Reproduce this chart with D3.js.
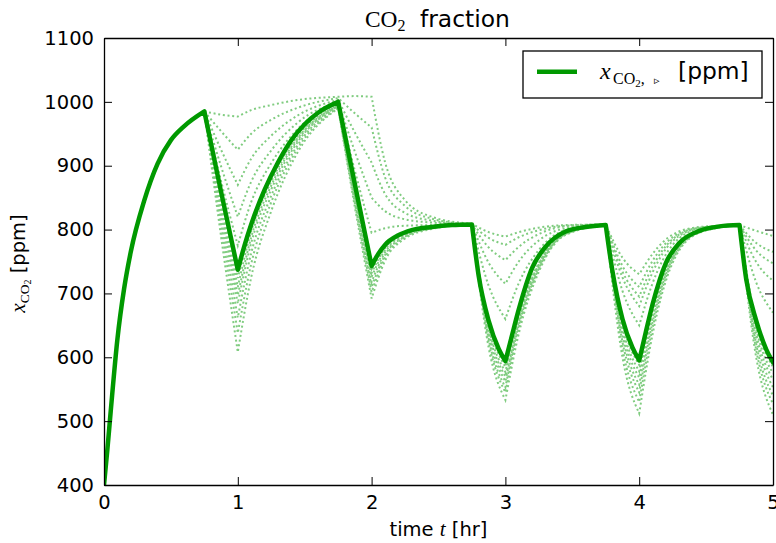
<!DOCTYPE html>
<html><head><meta charset="utf-8">
<script src="https://cdn.jsdelivr.net/npm/d3@7"></script>
<style>body{margin:0;background:#fff}svg{display:block}</style>
</head><body><svg id="c" width="776" height="543"></svg>
<script>
// ---- data ----
const xTicks = [0, 1, 2, 3, 4, 5];
const yTicks = [400, 500, 600, 700, 800, 900, 1000, 1100];
const switchTimes = [0.75, 1, 1.75, 2, 2.75, 3, 3.75, 4, 4.75, 5];

const mainT = [0, 0.025, 0.05, 0.1, 0.15, 0.2, 0.3, 0.4, 0.5, 0.6, 0.75, 0.875, 1, 1.05, 1.1, 1.2, 1.3, 1.4, 1.5, 1.6, 1.75, 1.875, 2, 2.05, 2.1, 2.2, 2.3, 2.45, 2.6, 2.75, 2.8, 2.875, 2.95, 3, 3.05, 3.1, 3.2, 3.3, 3.45, 3.6, 3.75, 3.8, 3.875, 3.95, 4, 4.05, 4.1, 4.2, 4.3, 4.45, 4.6, 4.75, 4.8, 4.875, 4.95, 5];
const mainV = [400, 455, 515, 628, 707, 765, 845, 903, 940, 962, 985, 859, 737, 775, 808, 862, 905, 940, 965, 983, 1000, 871, 743, 762, 776, 791, 799, 804, 807, 808, 728, 657, 613, 594, 635, 675, 740, 773, 797, 804, 807, 735, 660, 615, 595, 640, 683, 748, 779, 798, 805, 807, 722, 657, 612, 592];

const dotT = [0.75, 0.875, 1, 1.1, 1.25, 1.45, 1.75, 1.875, 2, 2.1, 2.25, 2.45, 2.75, 2.875, 3, 3.1, 3.25, 3.45, 3.75, 3.875, 4, 4.1, 4.25, 4.45, 4.75, 4.875, 5];
const dot1  = [985, 980, 977, 987, 995, 1003, 1008, 1009, 1008, 906, 846, 820, 809, 796, 789, 796, 803, 807, 808, 756, 730, 762, 792, 804, 807, 798, 790];
const dot2  = [985, 954, 925, 950, 972, 991, 1006, 982, 960, 882, 837, 817, 808, 787, 776, 788, 799, 806, 808, 743, 710, 751, 788, 803, 807, 779, 765];
const dot3  = [985, 925, 870, 911, 947, 979, 1003, 952, 905, 856, 826, 814, 808, 772, 752, 773, 793, 805, 808, 734, 695, 742, 785, 803, 807, 767, 747];
const dot4  = [985, 899, 820, 875, 924, 968, 1000, 922, 850, 829, 816, 811, 808, 748, 715, 750, 783, 802, 808, 725, 680, 733, 782, 802, 807, 749, 720];
const dot5  = [985, 876, 775, 843, 904, 958, 998, 892, 795, 802, 806, 807, 808, 712, 660, 716, 768, 799, 807, 704, 650, 716, 776, 801, 807, 717, 670];
const dot6  = [985, 849, 724, 807, 881, 947, 996, 862, 738, 774, 795, 804, 808, 652, 585, 670, 748, 795, 807, 654, 588, 680, 763, 798, 807, 651, 585];
const dot7  = [985, 842, 710, 797, 875, 944, 995, 858, 732, 771, 794, 803, 808, 646, 577, 665, 746, 794, 807, 647, 578, 674, 761, 798, 807, 644, 575];
const dot8  = [985, 835, 697, 788, 869, 941, 994, 855, 726, 768, 792, 803, 808, 641, 570, 660, 744, 794, 807, 640, 568, 668, 759, 797, 807, 637, 565];
const dot9  = [985, 828, 684, 779, 863, 938, 994, 850, 718, 764, 791, 803, 808, 636, 562, 655, 742, 793, 807, 632, 557, 662, 757, 797, 807, 629, 553];
const dot10 = [985, 817, 662, 763, 853, 933, 993, 846, 710, 760, 789, 802, 808, 629, 553, 650, 739, 793, 807, 624, 545, 655, 755, 797, 807, 620, 540];
const dot11 = [985, 805, 638, 746, 843, 928, 991, 841, 702, 756, 788, 802, 808, 624, 545, 645, 737, 792, 807, 613, 530, 646, 752, 796, 807, 611, 527];
const dot12 = [985, 789, 608, 725, 829, 922, 990, 835, 692, 751, 786, 801, 808, 615, 533, 637, 734, 792, 807, 600, 512, 636, 748, 795, 807, 599, 510];
const dotSeries = [dot1, dot2, dot3, dot4, dot5, dot6, dot7, dot8, dot9, dot10, dot11, dot12];

// ---- layout ----
const W = 776, H = 543;
const M = {l: 104, r: 773, t: 38, b: 485};
const svg = d3.select('#c');
const x = d3.scaleLinear().domain([0, 5]).range([M.l, M.r]);
const y = d3.scaleLinear().domain([400, 1100]).range([M.b, M.t]);
const SANS = "'DejaVu Sans', sans-serif";
const SERIF = "'Liberation Serif', 'DejaVu Serif', serif";
const mainColor = '#009900';
const dotColor = '#80cc80';

svg.append('defs').append('clipPath').attr('id', 'clip')
  .append('rect').attr('x', M.l).attr('y', M.t).attr('width', M.r - M.l).attr('height', M.b - M.t);

function segPath(T, V) {
  const pts = T.map((t, i) => [t, V[i]]);
  const segs = []; let cur = [pts[0]];
  for (let i = 1; i < pts.length; i++) {
    cur.push(pts[i]);
    if (i < pts.length - 1 && switchTimes.some(b => Math.abs(b - pts[i][0]) < 1e-9)) {
      segs.push(cur); cur = [pts[i]];
    }
  }
  segs.push(cur);
  const gen = d3.line().x(d => x(d[0])).y(d => y(d[1])).curve(d3.curveMonotoneX);
  return segs.map((s, k) => { const p = gen(s); return k === 0 ? p : p.replace(/^M[^CL]*/, ''); }).join('');
}

const plot = svg.append('g').attr('clip-path', 'url(#clip)');
plot.selectAll('path.dot').data(dotSeries).join('path')
  .attr('class', 'dot')
  .attr('d', d => segPath(dotT, d))
  .attr('fill', 'none').attr('stroke', dotColor).attr('stroke-width', 2)
  .attr('stroke-dasharray', '2 2.7');
plot.append('path').attr('d', segPath(mainT, mainV))
  .attr('fill', 'none').attr('stroke', mainColor).attr('stroke-width', 4.5)
  .attr('stroke-linejoin', 'round').attr('stroke-linecap', 'round');

// ---- axes ----
function styleAxis(g) {
  g.select('.domain').attr('stroke', '#000').attr('stroke-width', 1.3);
  g.selectAll('.tick line').attr('stroke', '#000').attr('stroke-width', 1);
  g.selectAll('.tick text').attr('fill', '#000').attr('font-family', SANS).attr('font-size', 19.5);
}
svg.append('g').attr('transform', `translate(0,${M.b})`)
  .call(d3.axisBottom(x).tickValues(xTicks).tickSize(-8).tickSizeOuter(0).tickPadding(10).tickFormat(d3.format('d')))
  .call(styleAxis);
svg.append('g').attr('transform', `translate(0,${M.t})`)
  .call(d3.axisTop(x).tickValues(xTicks).tickSize(-8).tickSizeOuter(0).tickFormat(''))
  .call(styleAxis);
svg.append('g').attr('transform', `translate(${M.l},0)`)
  .call(d3.axisLeft(y).tickValues(yTicks).tickSize(-8).tickSizeOuter(0).tickPadding(10).tickFormat(d3.format('d')))
  .call(styleAxis);
svg.append('g').attr('transform', `translate(${M.r},0)`)
  .call(d3.axisRight(y).tickValues(yTicks).tickSize(-8).tickSizeOuter(0).tickFormat(''))
  .call(styleAxis);

// ---- title ----
const title = svg.append('text').attr('y', 27).attr('fill', '#000');
title.append('tspan').attr('x', 365).attr('font-family', SERIF).attr('font-size', 23.4).text('CO');
title.append('tspan').attr('dy', 4).attr('font-family', SERIF).attr('font-size', 16).text('2');
title.append('tspan').attr('x', 420).attr('y', 27).attr('font-family', SANS).attr('font-size', 23.4).text('fraction');

// ---- x label ----
const xl = svg.append('text').attr('x', (M.l + M.r) / 2).attr('y', 536).attr('text-anchor', 'middle').attr('fill', '#000').attr('font-size', 19.5);
xl.append('tspan').attr('font-family', SANS).text('time ');
xl.append('tspan').attr('font-family', SERIF).attr('font-style', 'italic').attr('font-size', 21).text('t');
xl.append('tspan').attr('font-family', SANS).text(' [hr]');

// ---- y label ----
const yl = svg.append('text').attr('transform', `translate(25,${(M.t + M.b) / 2 + 2}) rotate(-90)`)
  .attr('text-anchor', 'middle').attr('fill', '#000').attr('font-size', 19.5);
yl.append('tspan').attr('font-family', SERIF).attr('font-style', 'italic').attr('font-size', 21).text('x');
yl.append('tspan').attr('font-family', SERIF).attr('font-size', 13.5).attr('dy', 4).text('CO');
yl.append('tspan').attr('font-family', SERIF).attr('font-size', 10).attr('dy', 2).text('2');
yl.append('tspan').attr('font-family', SANS).attr('dy', -6).text(' [ppm]');

// ---- legend ----
const lg = svg.append('g');
lg.append('rect').attr('x', 523).attr('y', 51).attr('width', 239).attr('height', 47)
  .attr('fill', '#fff').attr('stroke', '#000').attr('stroke-width', 1.3);
lg.append('line').attr('x1', 537).attr('x2', 577).attr('y1', 71.7).attr('y2', 71.7)
  .attr('stroke', mainColor).attr('stroke-width', 4.5);
const lt = lg.append('text').attr('y', 79).attr('fill', '#000');
lt.append('tspan').attr('x', 600).attr('font-family', SERIF).attr('font-style', 'italic').attr('font-size', 24).text('x');
lt.append('tspan').attr('x', 613).attr('y', 84).attr('font-family', SERIF).attr('font-size', 16).text('CO');
lt.append('tspan').attr('dy', 3).attr('font-family', SERIF).attr('font-size', 11).text('2');
lt.append('tspan').attr('dy', -3).attr('font-family', SERIF).attr('font-size', 16).text(',');
lt.append('tspan').attr('x', 654).attr('font-family', "'DejaVu Sans', sans-serif").attr('font-size', 11).text('\u25B9');
lt.append('tspan').attr('x', 678).attr('y', 79).attr('font-family', SANS).attr('font-size', 23.4).text('[ppm]');
</script>
</body></html>
